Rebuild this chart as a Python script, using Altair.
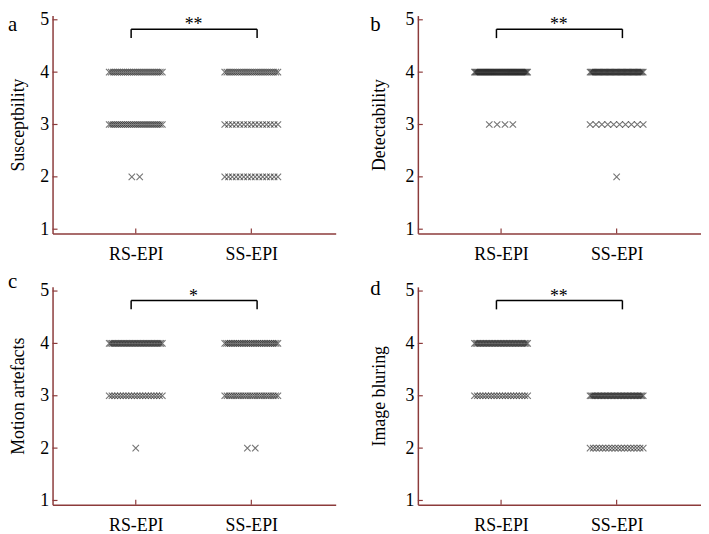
import altair as alt
import pandas as pd

# ---- data ----
panel_ids = ["a", "b", "c", "d"]
y_titles = ["Susceptbility", "Detectability", "Motion artefacts", "Image bluring"]
significance = ["**", "**", "*", "**"]
groups = ["RS-EPI", "SS-EPI"]
group_pos = [1, 2]
scores = [4, 3, 2]
y_ticks = [1, 2, 3, 4, 5]

# number of ratings per score (4, 3, 2) for each method
a_rs = [27, 27, 2]
a_ss = [26, 15, 15]
b_rs = [52, 4, 0]
b_ss = [45, 10, 1]
c_rs = [35, 20, 1]
c_ss = [30, 24, 2]
d_rs = [36, 20, 0]
d_ss = [0, 38, 18]

# ---- style ----
FONT = "Liberation Serif"
AXC = "#8c3b3b"
STEP = 0.068      # spacing between markers (data units)
SPREAD = 0.46     # max spread of a row (data units)
XPATH = "M-1,-1L1,1M-1,1L1,-1"
W, H = 286, 220

rows = []
for pid, rs, ss in zip(panel_ids, [a_rs, b_rs, c_rs, d_rs], [a_ss, b_ss, c_ss, d_ss]):
    for g, pos, counts in zip(groups, group_pos, [rs, ss]):
        for score, n in zip(scores, counts):
            step = min(STEP, SPREAD / (n - 1)) if n > 1 else 0
            for k in range(n):
                rows.append({"panel": pid, "group": g, "score": score,
                             "x": pos + (k - (n - 1) / 2) * step})
df = pd.DataFrame(rows)

xs = alt.Scale(domain=[0.28, 2.73], nice=False, zero=False)
ys = alt.Scale(domain=[0.92, 5.08], nice=False, zero=False)

letter_y = [15.5, 15.5, 1, 8]


def panel(i):
    pid = panel_ids[i]
    left = i % 2 == 0
    x_axis = alt.Axis(
        values=group_pos, title=None, grid=False, ticks=False,
        labelExpr=f"datum.value == 1 ? '{groups[0]}' : '{groups[1]}'",
        domainColor=AXC, domainWidth=1.5, labelFont=FONT, labelFontSize=18,
        labelColor="black", labelPadding=12)
    y_axis = alt.Axis(
        values=y_ticks, format="d", grid=False, ticks=False,
        domainColor=AXC, domainWidth=1.5, labelFont=FONT, labelFontSize=18,
        labelColor="black", labelPadding=4, title=y_titles[i], titleFont=FONT,
        titleFontSize=18, titleFontWeight="normal", titleColor="black",
        titlePadding=12 if left else 17)
    X = lambda: alt.X("x:Q", scale=xs, axis=x_axis)
    Y = lambda: alt.Y("score:Q", scale=ys, axis=y_axis)

    pts = alt.Chart(df).transform_filter(alt.datum.panel == pid).mark_point(
        shape=XPATH, size=42, filled=False, color="#1a1a1a", strokeWidth=1.1, opacity=0.6
    ).encode(x=X(), y=Y())
    yt = alt.Chart(pd.DataFrame({"score": y_ticks})).mark_rule(color=AXC, strokeWidth=1.2).encode(
        y=Y(), x=alt.value(0), x2=alt.value(5))
    xt = alt.Chart(pd.DataFrame({"x": group_pos})).mark_rule(color=AXC, strokeWidth=1.2).encode(
        x=X(), y=alt.value(H), y2=alt.value(H - 5))
    br_df = pd.DataFrame({"x": [0.96, 0.96, 2.05], "x2": [2.05, 0.96, 2.05],
                          "score": [4.82, 4.65, 4.65], "y2": [4.82, 4.82, 4.82]})
    br = alt.Chart(br_df).mark_rule(color="black", strokeWidth=1.5).encode(
        x=X(), x2="x2:Q", y=Y(), y2="y2:Q")
    st = alt.Chart(pd.DataFrame({"x": [1.5], "score": [4.80], "t": [significance[i]]})).mark_text(
        font=FONT, fontSize=18, baseline="alphabetic", color="black").encode(
        x=X(), y=Y(), text="t:N")
    lt = alt.Chart(pd.DataFrame({"t": [pid]})).mark_text(
        font=FONT, fontSize=21, align="left", baseline="alphabetic", color="black").encode(
        text="t:N", x=alt.value(-45 if left else -48), y=alt.value(letter_y[i]))
    return alt.layer(pts, yt, xt, br, st, lt).properties(width=W, height=H)


chart = alt.concat(*[panel(i) for i in range(4)], columns=2,
                   spacing={"row": 54, "column": 83}, bounds="flush").properties(
    padding=0).configure_view(stroke=None)

chart.save("out.html", embed_options={"renderer": "svg", "actions": False})
